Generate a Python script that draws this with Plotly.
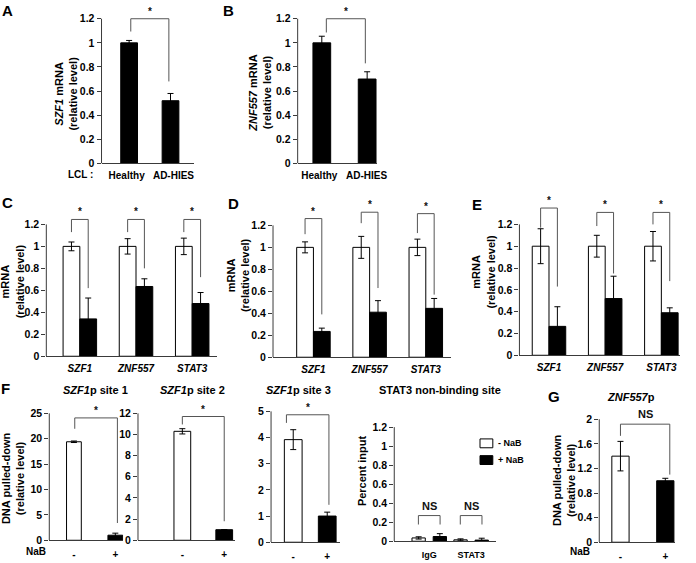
import plotly.graph_objects as go

W, H = 696, 563
FONT = "Liberation Sans, Arial, Helvetica, sans-serif"
AXC = "#3a3a3a"
BRC = "#555555"

# ---------------- data ----------------
lcl_groups = ["Healthy", "AD-HIES"]
szf1_lcl = [1.00, 0.52]
szf1_lcl_err = [0.02, 0.06]
znf557_lcl = [1.00, 0.70]
znf557_lcl_err = [0.055, 0.06]

genes = ["SZF1", "ZNF557", "STAT3"]
C_ctrl = [1.0, 1.0, 1.0]
C_ctrl_err = [0.04, 0.07, 0.075]
C_kd = [0.34, 0.635, 0.48]
C_kd_err = [0.19, 0.07, 0.10]
D_ctrl = [1.0, 1.0, 1.0]
D_ctrl_err = [0.05, 0.10, 0.075]
D_kd = [0.235, 0.41, 0.445]
D_kd_err = [0.03, 0.105, 0.09]
E_ctrl = [1.0, 1.0, 1.0]
E_ctrl_err = [0.16, 0.10, 0.135]
E_kd = [0.265, 0.52, 0.39]
E_kd_err = [0.18, 0.205, 0.045]

nab_ticks = ["-", "+"]
site1 = [19.4, 1.0]
site1_err = [0.15, 0.4]
site2 = [10.3, 1.0]
site2_err = [0.25, 0.0]
site3 = [3.92, 1.0]
site3_err = [0.38, 0.15]
nb_groups = ["IgG", "STAT3"]
nb_minus = [0.035, 0.015]
nb_minus_err = [0.012, 0.01]
nb_plus = [0.05, 0.012]
nb_plus_err = [0.03, 0.02]
znf557p = [1.40, 1.00]
znf557p_err = [0.24, 0.04]

# ---------------- helpers ----------------
fig = go.Figure()
shapes = []
annos = []


def names(k):
    s = "" if k == 1 else str(k)
    return "x" + s, "y" + s, "xaxis" + s, "yaxis" + s


def P(px, py):
    return px / W, 1 - py / H


def setup(k, xl, xr, c0, c1, ncat, y0, ytp, yt, ymax, yticks, xlabels,
          xfont_size=10, label_px=None, standoff=3):
    xn, yn, xa, ya = names(k)
    u = (c1 - c0) / (ncat - 1)
    s = (y0 - ytp) / yt
    top = y0 - s * ymax
    if label_px is None:
        tv = list(range(ncat))
    else:
        tv = [(p - c0) / u for p in label_px]
    fig.update_layout(**{
        xa: dict(domain=[xl / W, xr / W],
                 range=[(xl - c0) / u, (xr - c0) / u],
                 anchor=yn, showline=True, linecolor=AXC, linewidth=1,
                 ticks="", tickvals=tv, ticktext=xlabels,
                 ticklabelstandoff=standoff,
                 tickfont=dict(family=FONT, size=xfont_size, color="black",
                               weight="bold"),
                 showgrid=False, zeroline=False, fixedrange=True),
        ya: dict(domain=[1 - y0 / H, 1 - top / H], range=[0, ymax],
                 anchor=xn, showline=False, ticks="outside", ticklen=4,
                 tickwidth=1, tickcolor=AXC, tickvals=yticks,
                 ticktext=[f"{v:g}" for v in yticks],
                 tickfont=dict(family=FONT, size=10.5, color="black",
                               weight="bold"),
                 showgrid=False, zeroline=False, fixedrange=True),
    })
    shapes.append(dict(type="line", xref=xn + " domain", yref=yn,
                       x0=0, x1=0, y0=0, y1=yt,
                       line=dict(color=AXC, width=1)))
    return u


def add_bars(k, xs, vals, errs, color, w, offset):
    xn, yn, _, _ = names(k)
    fig.add_trace(go.Bar(
        x=xs, y=vals, width=w, offset=offset,
        marker=dict(color=color, line=dict(color="black", width=1)),
        error_y=dict(type="data", array=errs, visible=True, color="black",
                     thickness=1, width=3),
        xaxis=xn, yaxis=yn, showlegend=False, hoverinfo="skip"))


def bracket(k, xa, xb, yl, ytop, yr, label, size=10):
    xn, yn, _, _ = names(k)
    shapes.append(dict(type="path", xref=xn, yref=yn,
                       path=f"M {xa},{yl} L {xa},{ytop} L {xb},{ytop} L {xb},{yr}",
                       line=dict(color=BRC, width=1)))
    star = label == "*"
    annos.append(dict(x=(xa + xb) / 2, y=ytop, xref=xn, yref=yn, text=label,
                      showarrow=False, xanchor="center", yanchor="bottom",
                      yshift=0 if star else 2,
                      font=dict(family=FONT, size=size, color="#111111",
                                weight="bold")))


def text(px, py, t, size=11, xanchor="center", angle=0):
    x, y = P(px, py)
    annos.append(dict(x=x, y=y, xref="paper", yref="paper", text=t,
                      showarrow=False, xanchor=xanchor, yanchor="middle",
                      textangle=angle,
                      font=dict(family=FONT, size=size, color="black",
                                weight="bold")))


# ---------------- panel A ----------------
t12 = [0, 0.2, 0.4, 0.6, 0.8, 1.0, 1.2]
u = setup(1, 103, 197, 131, 173, 2, 163, 16, 1.2, 1.32, t12, lcl_groups,
          label_px=[128.5, 176])
add_bars(1, [0, 1], szf1_lcl, szf1_lcl_err, "black", 17 / u, -8.5 / u)
bracket(1, 0.04, 0.96, 1.094, 1.2, 0.68, "*")

# ---------------- panel B ----------------
u = setup(2, 302, 383, 326.5, 372.5, 2, 163, 16, 1.2, 1.32, t12, lcl_groups,
          label_px=[324, 372])
add_bars(2, [0, 1], znf557_lcl, znf557_lcl_err, "black", 18 / u, -9 / u)
bracket(2, 0.1, 0.96, 1.086, 1.2, 0.83, "*")

# ---------------- panels C, D, E ----------------
glab = [f"<i>{g}</i>" for g in genes]
panelsCDE = [
    (3, 47, 220, 81, 195, 359, 225, 1.32, C_ctrl, C_ctrl_err, C_kd, C_kd_err,
     [(1.13, 1.245, 0.62), (1.13, 1.245, 0.80), (1.13, 1.245, 0.72)]),
    (4, 277, 458, 318, 432, 360, 226, 1.36, D_ctrl, D_ctrl_err, D_kd, D_kd_err,
     [(1.12, 1.262, 0.39), (1.22, 1.32, 0.63), (1.13, 1.307, 0.57)]),
    (5, 527, 690, 557, 671, 358, 225, 1.40, E_ctrl, E_ctrl_err, E_kd, E_kd_err,
     [(1.17, 1.35, 0.63), (1.185, 1.31, 0.75), (1.2, 1.31, 0.68)]),
]
for (k, xl, xr, c0, c2, y0, ytp, ymax, ctrl, ctrl_e, kd, kd_e, brs) in panelsCDE:
    u = setup(k, xl, xr, c0, c2, 3, y0, ytp, 1.2, ymax, t12, glab)
    w = 17 / u
    add_bars(k, [0, 1, 2], ctrl, ctrl_e, "white", w, -w)
    add_bars(k, [0, 1, 2], kd, kd_e, "black", w, 0)
    for i, (yl, ytop, yr) in enumerate(brs):
        bracket(k, i - w / 2, i + w / 2, yl, ytop, yr, "*")

# ---------------- panel F ----------------
u = setup(6, 50, 125, 75, 117, 2, 546, 417, 25, 26, [0, 5, 10, 15, 20, 25],
          nab_ticks, standoff=5)
add_bars(6, [0, 1], site1, site1_err, ["white", "black"], 15 / u, -7.5 / u)
bracket(6, 0.02, 1.05, 21.96, 24.1, 3.4, "*")

u = setup(7, 140, 238, 185, 227.5, 2, 546, 417, 12, 12.5,
          [0, 2, 4, 6, 8, 10, 12], nab_ticks, standoff=5)
add_bars(7, [0, 1], site2, site2_err, ["white", "black"], 17 / u, -8.5 / u)
bracket(7, 0.0, 1.0, 10.95, 11.7, 1.8, "*")

u = setup(8, 275, 345, 297.5, 332, 2, 548, 415, 5, 5.2, [0, 1, 2, 3, 4, 5],
          nab_ticks, standoff=5)
add_bars(8, [0, 1], site3, site3_err, ["white", "black"], 18 / u, -9 / u)
bracket(8, -0.2, 1.05, 4.56, 4.87, 1.43, "*")

u = setup(9, 400, 503, 435.5, 478, 2, 547, 431, 1.2, 1.25, t12, nb_groups,
          xfont_size=9, standoff=5)
add_bars(9, [0, 1], nb_minus, nb_minus_err, "white", 13.5 / u, -17.5 / u)
add_bars(9, [0, 1], nb_plus, nb_plus_err, "black", 13.5 / u, 4 / u)
for i in range(2):
    bracket(9, i - 11 / u, i + 11 / u, 0.176, 0.27, 0.176, "NS", size=11)

# ---------------- panel G ----------------
u = setup(10, 608, 685, 629.5, 675, 2, 548, 423, 2, 2.05,
          [0, 0.4, 0.8, 1.2, 1.6, 2], nab_ticks, standoff=5)
add_bars(10, [0, 1], znf557p, znf557p_err, ["white", "black"], 17.5 / u,
         -8.75 / u)
bracket(10, 0.0, 1.1, 1.73, 1.92, 1.1, "NS", size=11)

# ---------------- texts ----------------
for lab, px, py in [("A", 8, 8), ("B", 232, 8), ("C", 8, 203), ("D", 237, 204),
                    ("E", 484, 205), ("F", 6, 392), ("G", 562, 400)]:
    text(px, py, lab, size=15)

text(66, 92, "<i>SZF1</i> mRNA<br>(relative level)", angle=-90)
text(263, 92, "<i>ZNF557</i> mRNA<br>(relative level)", angle=-90)
text(13, 283, "mRNA<br>(relative level)", angle=-90)
text(241, 277, "mRNA<br>(relative level)", angle=-90)
text(490, 273, "mRNA<br>(relative level)", angle=-90)
text(13, 483, "DNA pulled-down<br>(relative level)", angle=-90)
text(368, 475, "Percent input", angle=-90)
text(572, 485, "DNA pulled-down<br>(relative level)", angle=-90)

text(82, 174, "LCL :", size=10)
text(37, 557, "NaB", size=10)
text(588, 557, "NaB", size=10)

text(97, 393, "<i>SZF1</i>p site 1")
text(195, 393, "<i>SZF1</i>p site 2")
text(303, 393, "<i>SZF1</i>p site 3")
text(446, 393, "STAT3 non-binding site")
text(640, 400, "<i>ZNF557</i>p")

# legend for STAT3 non-binding site
for (py0, py1, col, lab) in [(443, 452, "white", "- NaB"),
                             (460, 469, "black", "+ NaB")]:
    x0, y0 = P(487, py0)
    x1, y1 = P(500, py1)
    shapes.append(dict(type="rect", xref="paper", yref="paper",
                       x0=x0, x1=x1, y0=y1, y1=y0, fillcolor=col,
                       line=dict(color="black", width=1)))
    text(503, (py0 + py1) / 2, lab, size=9, xanchor="left")

fig.update_layout(
    width=W, height=H, margin=dict(l=0, r=0, t=0, b=0),
    paper_bgcolor="white", plot_bgcolor="rgba(0,0,0,0)",
    barmode="overlay", showlegend=False,
    shapes=shapes, annotations=annos,
    font=dict(family=FONT, color="black"),
)

fig.write_html("out.html",
               config={"displayModeBar": False},
               post_script="document.body.style.margin='0px';"
                           "document.body.style.overflow='hidden';")
